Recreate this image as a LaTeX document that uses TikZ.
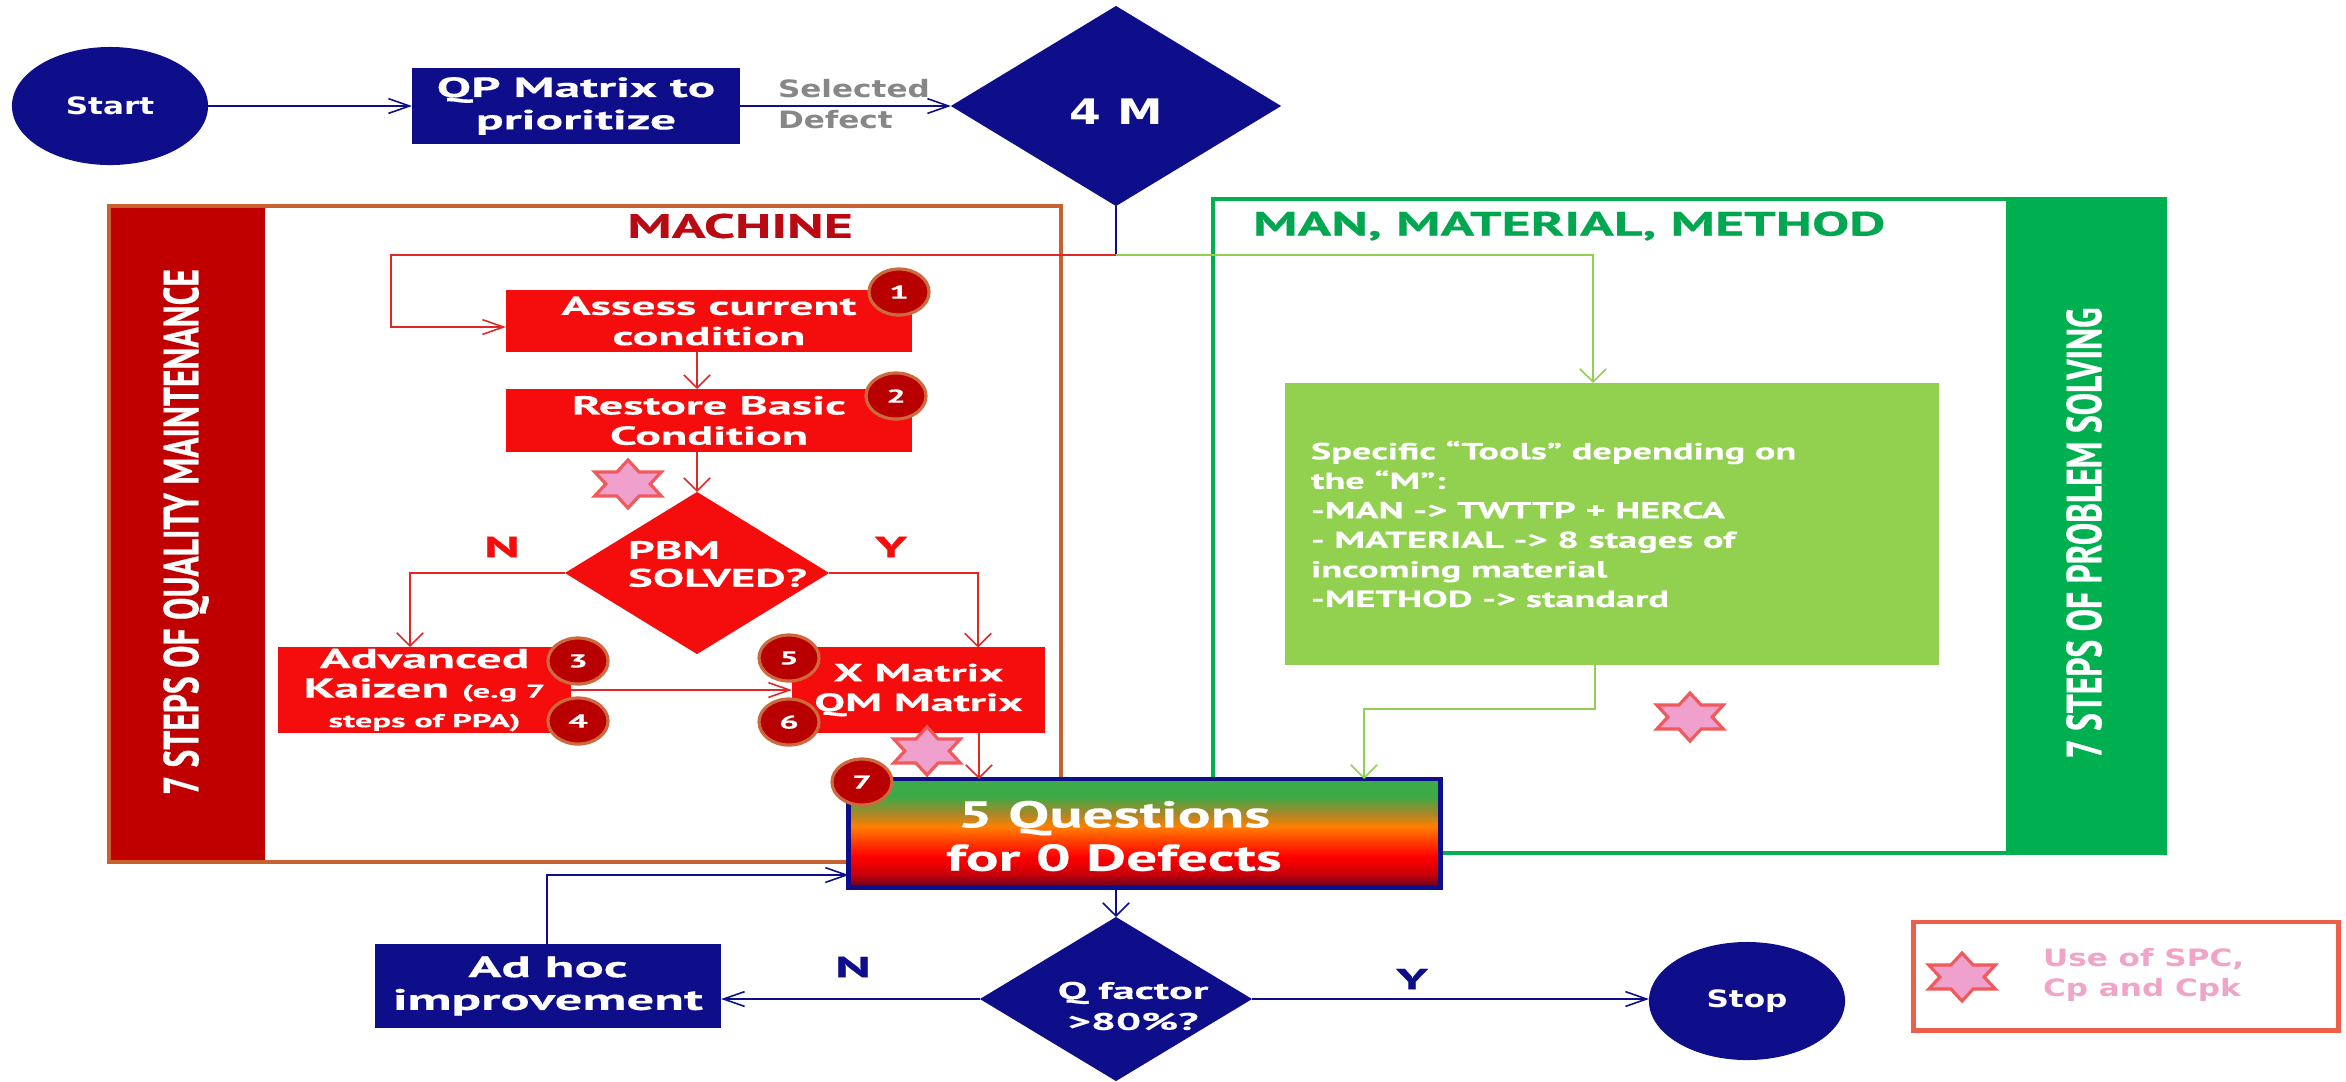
\documentclass[tikz,border=0pt]{standalone}
\usepackage{fontspec}
\usetikzlibrary{shapes.geometric,arrows.meta,calc}

% type faces: wide DIN-like faces, a narrow one for the side bands, a wide round one
\newfontfamily\dinf{PT Sans}[FakeStretch=1.85, FakeBold=0.4]
\newfontfamily\dinh{PT Sans}[FakeStretch=1.65, FakeBold=0.4]
\newfontfamily\dinv{PT Sans}[FakeStretch=0.68, FakeBold=0.4]
\newfontfamily\verf{DejaVu Sans}[FakeStretch=1.3]

\definecolor{navyc}{RGB}{14,14,138}
\definecolor{boxred}{RGB}{245,12,12}
\definecolor{linered}{RGB}{225,40,40}
\definecolor{bandred}{RGB}{192,0,0}
\definecolor{labred}{RGB}{185,10,20}
\definecolor{frameor}{RGB}{199,98,48}
\definecolor{gband}{RGB}{0,176,80}
\definecolor{gtext}{RGB}{0,166,80}
\definecolor{lgreen}{RGB}{146,208,80}
\definecolor{badgefill}{RGB}{185,0,0}
\definecolor{badgeedge}{RGB}{205,105,60}
\definecolor{starfill}{RGB}{240,160,205}
\definecolor{staredge}{RGB}{240,90,90}
\definecolor{legedge}{RGB}{235,95,75}
\definecolor{legtext}{RGB}{240,165,200}
\definecolor{grayt}{RGB}{135,135,135}
\definecolor{qdark}{RGB}{100,0,30}
\definecolor{qdred}{RGB}{200,0,10}
\definecolor{qred}{RGB}{255,0,0}
\definecolor{qorred}{RGB}{255,60,0}
\definecolor{qorange}{RGB}{255,128,0}
\definecolor{qolive}{RGB}{170,135,40}
\definecolor{qgreen}{RGB}{60,170,70}

% the fill of a path is taken from the 25bp--75bp part of a shading
\pgfdeclareverticalshading{fiveqshade}{100bp}{color(0bp)=(qdark); color(25bp)=(qdark); color(31bp)=(qdred); color(39bp)=(qred); color(46bp)=(qorred); color(53bp)=(qorange); color(59bp)=(qolive); color(67bp)=(qgreen); color(100bp)=(qgreen)}

\tikzset{
  every node/.style={inner sep=0pt, outer sep=0pt},
  conn/.style={line width=0.45pt},
  navyline/.style={conn, draw=navyc},
  redline/.style={conn, draw=linered},
  greenline/.style={conn, draw=lgreen},
  harr/.style={-{Straight Barb[length=6pt,width=4.2pt]}},
  varr/.style={-{Straight Barb[length=3.7pt,width=7.5pt]}},
  terminal/.style={ellipse, fill=navyc, text=white, minimum width=1.96cm, minimum height=1.18cm,
    font=\verf\bfseries\fontsize{6.8}{8}\selectfont},
  navybox/.style={rectangle, fill=navyc, text=white, align=center},
  navydiamond/.style={diamond, fill=navyc},
  redbox/.style={rectangle, fill=boxred, text=white, align=center},
  reddiamond/.style={diamond, fill=boxred},
  badge/.style={ellipse, fill=badgefill, draw=badgeedge, line width=0.9pt,
    minimum width=0.6cm, minimum height=0.46cm, text=white,
    font=\dinf\bfseries\fontsize{5.3}{6}\selectfont},
  vlabel/.style={rotate=90, text=white, font=\dinv\bfseries\fontsize{14}{16}\selectfont},
  headlabel/.style={font=\dinh\bfseries\fontsize{9.6}{11}\selectfont},
  nylabel/.style={font=\dinf\bfseries\fontsize{8.3}{9}\selectfont},
  starsty/.style={fill=starfill, draw=staredge, line width=0.9pt, line join=miter},
  pics/sixstar/.style={code={
    \draw[starsty, xscale=1.6] (90:24) -- (120:13.86) -- (150:24) -- (180:13.86) -- (210:24)
      -- (240:13.86) -- (270:24) -- (300:13.86) -- (330:24) -- (0:13.86) -- (30:24)
      -- (60:13.86) -- cycle;}}
}

\begin{document}
\begin{tikzpicture}[x=0.01cm, y=-0.01cm]
\useasboundingbox[fill=white] (0,0) rectangle (2346,1081);

% the two swim-lane frames with their coloured side bands
\fill[bandred] (109,206) rectangle (265,862);
\draw[frameor, line width=1.4pt] (109,206) rectangle (1061,862);
\fill[gband] (2006,199) rectangle (2165,853);
\draw[gband, line width=1.4pt] (1213,199) rectangle (2165,853);

\node[vlabel] (qmlabel) at (186,532) {7 STEPS OF QUALITY MAINTENANCE};
\node[vlabel] (pslabel) at (2084,533) {7 STEPS OF PROBLEM SOLVING};
\node[headlabel, text=labred] (machlabel) at (740,226) {MACHINE};
\node[headlabel, text=gtext, anchor=west] (mmmlabel) at (1253,226) {MAN, MATERIAL, METHOD};

% top row
\node[terminal] (start) at (110,106) {Start};
\node[navybox, minimum width=3.28cm, minimum height=0.75cm,
  font=\dinf\bfseries\fontsize{7.9}{9.2}\selectfont] (qp) at (576,106) {QP Matrix to\\prioritize};
\node[text=grayt, anchor=west, align=left, font=\verf\bfseries\fontsize{6.8}{9}\selectfont]
  (seldef) at (778,104) {Selected\\Defect};
\node[navydiamond, minimum width=3.30cm, minimum height=2.0cm] (fourm) at (1116,106) {};
\node[text=white, font=\verf\bfseries\fontsize{10}{11}\selectfont] (fourmtxt) at (1116,112) {4 M};

% machine lane
\node[redbox, minimum width=4.06cm, minimum height=0.62cm,
  font=\dinf\bfseries\fontsize{7.4}{8.6}\selectfont] (assess) at (709,321) {Assess current\\condition};
\node[redbox, minimum width=4.06cm, minimum height=0.63cm,
  font=\dinf\bfseries\fontsize{7.4}{8.6}\selectfont] (restore) at (709,420.5) {Restore Basic\\Condition};
\node[reddiamond, minimum width=2.64cm, minimum height=1.62cm] (pbm) at (697,573) {};
\node[text=white, anchor=west, align=left, font=\dinf\bfseries\fontsize{7.2}{7.9}\selectfont]
  (pbmtxt) at (628,564) {PBM\\SOLVED?};
\node[nylabel, text=boxred] (nlab) at (502,547) {N};
\node[nylabel, text=boxred] (ylab) at (891,547) {Y};
\node[redbox, minimum width=2.93cm, minimum height=0.86cm,
  font=\dinf\bfseries\fontsize{7.8}{8.4}\selectfont] (adv) at (424.5,690)
  {Advanced\\Kaizen {\fontsize{5.3}{5.8}\selectfont(e.g 7}\\{\fontsize{5.3}{5.8}\selectfont steps of PPA)}};
\node[redbox, minimum width=2.53cm, minimum height=0.85cm,
  font=\dinf\bfseries\fontsize{7.1}{8.4}\selectfont] (xm) at (918.5,690) {X Matrix\\QM Matrix};

% man / material / method lane
\node[rectangle, fill=lgreen, minimum width=6.54cm, minimum height=2.82cm] (ggbox) at (1612,524) {};
\node[text=white, anchor=west, align=left, font=\dinh\bfseries\fontsize{6.6}{8.4}\selectfont]
  (ggtxt) at (1311,524) {Specific “Tools” depending on\\the “M”:\\-MAN -> TWTTP + HERCA\\- MATERIAL -> 8 stages of\\incoming material\\-METHOD -> standard};

% connectors
\coordinate (j) at (1116,255);
\coordinate (rbend) at (391,255);
\coordinate (gbend) at (1593,255);
\coordinate (nbend) at (410,573);
\coordinate (ybend) at (978,573);
\coordinate (gb1) at (1595,709);
\coordinate (gb2) at (1364,709);
\coordinate (ahbend) at (547,875);

\draw[navyline, harr] (start.east) -- (qp.west);
\draw[navyline, harr] (qp.east) -- (fourm.west);
\draw[navyline] (fourm.south) -- (j);
\draw[redline, harr] (j) -- (rbend) |- ([yshift=-0.06cm]assess.west);
\draw[greenline, varr] (j) -- (gbend) -- (gbend |- ggbox.north);
\draw[redline, varr] ([xshift=-0.12cm]assess.south) -- ([xshift=-0.12cm]restore.north);
\draw[redline, varr] (restore.south -| pbm.north) -- (pbm.north);
\draw[redline, varr] (pbm.west) -- (nbend) -- (nbend |- adv.north);
\draw[redline, varr] (pbm.east) -- (ybend) -- (ybend |- xm.north);
\draw[redline, harr] (adv.east) -- (xm.west);
\coordinate (xmout) at ([xshift=0.605cm]xm.south);

% final check box and its inputs
\node[rectangle, shading=fiveqshade, draw=navyc, line width=1.4pt,
  minimum width=5.91cm, minimum height=1.08cm] (fiveq) at (1144.5,833) {};
\node[text=white, align=center, font=\dinh\bfseries\fontsize{10.6}{12.3}\selectfont]
  (fiveqtxt) at (1114,836) {5 Questions\\for 0 Defects};
\draw[redline, varr] (xmout) -- (xmout |- fiveq.north);
\draw[greenline, varr] (ggbox.south -| gb1) -- (gb1) -- (gb2) -- (gb2 |- fiveq.north);

% bottom row
\node[navydiamond, minimum width=2.72cm, minimum height=1.64cm] (qf) at (1116,999) {};
\node[text=white, align=center, font=\dinf\bfseries\fontsize{6.8}{8.8}\selectfont]
  (qftxt) at (1133,1006) {Q factor\\>80\%?};
\node[navybox, minimum width=3.46cm, minimum height=0.84cm,
  font=\dinf\bfseries\fontsize{8.4}{9.3}\selectfont] (adhoc) at (548,986) {Ad hoc\\improvement};
\node[terminal] (stop) at (1747,1001) {Stop};
\node[nylabel, text=navyc] (nlab2) at (853,967) {N};
\node[nylabel, text=navyc] (ylab2) at (1412,979) {Y};

\draw[navyline, varr] (fiveq.south -| qf.north) -- (qf.north);
\draw[navyline, harr] (qf.west) -- (qf.west -| adhoc.east);
\draw[navyline, harr] (qf.east) -- (qf.east -| stop.west);
\draw[navyline, harr] (adhoc.north -| ahbend) -- (ahbend) -- (ahbend -| fiveq.west);

% step numbers
\node[badge] (b1) at (899,292) {1};
\node[badge] (b2) at (896,396) {2};
\node[badge] (b3) at (578,661) {3};
\node[badge] (b4) at (578,721) {4};
\node[badge] (b5) at (789,658) {5};
\node[badge] (b6) at (789,722) {6};
\node[badge] (b7) at (862,782) {7};

% SPC markers
\pic at (628,484) {sixstar};
\pic at (927,751) {sixstar};
\pic at (1690,717) {sixstar};

% legend
\node[rectangle, draw=legedge, line width=1.4pt, minimum width=4.24cm, minimum height=1.08cm] (legend) at (2126,976) {};
\pic at (1962,977) {sixstar};
\node[text=legtext, anchor=west, align=left, font=\verf\bfseries\fontsize{6.8}{8.4}\selectfont]
  (legtxt) at (2043,975) {Use of SPC,\\Cp and Cpk};
\end{tikzpicture}
\end{document}
